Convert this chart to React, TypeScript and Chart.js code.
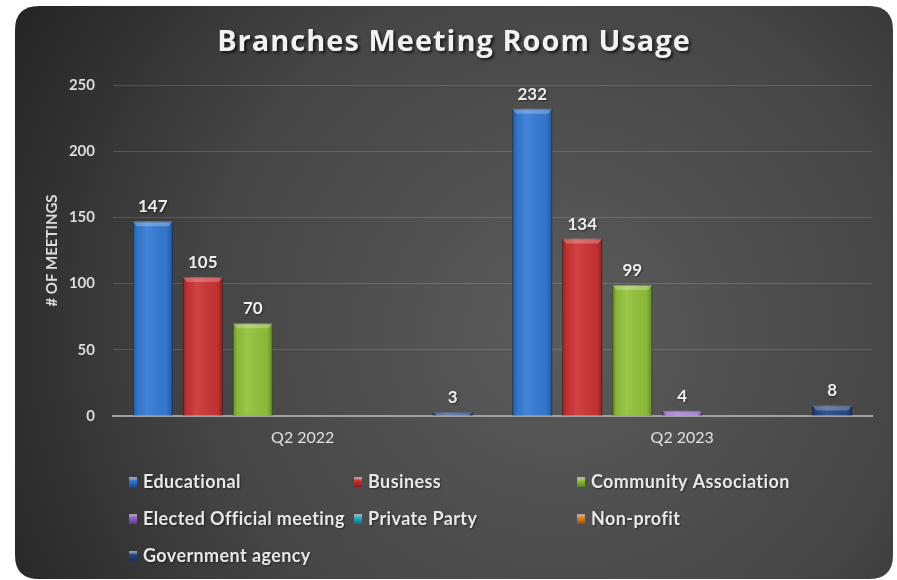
import React, { useEffect, useRef } from "react";
import { Chart, registerables } from "chart.js";

Chart.register(...registerables);

const categories = ["Q2 2022", "Q2 2023"];
const seriesNames = [
  "Educational",
  "Business",
  "Community Association",
  "Elected Official meeting",
  "Private Party",
  "Non-profit",
  "Government agency",
];
const educational = [147, 232];
const business = [105, 134];
const community = [70, 99];
const elected = [0, 4];
const privateParty = [0, 0];
const nonProfit = [0, 0];
const government = [3, 8];
const yTicks = [0, 50, 100, 150, 200, 250];
const chartTitle = "Branches Meeting Room Usage";
const yTitle = "# OF MEETINGS";

const seriesValues = [educational, business, community, elected, privateParty, nonProfit, government];
const seriesColors = [
  "rgb(52,122,212)",
  "rgb(204,52,52)",
  "rgb(146,194,60)",
  "rgb(150,100,205)",
  "rgb(40,175,205)",
  "rgb(232,130,40)",
  "rgb(38,74,135)",
];
const seriesBorders = [
  "rgb(30,75,140)",
  "rgb(130,30,30)",
  "rgb(90,125,35)",
  "rgb(95,60,135)",
  "rgb(25,110,130)",
  "rgb(150,80,20)",
  "rgb(25,45,85)",
];

const FONT = "Lato, 'Open Sans', sans-serif";

const bgPlugin = {
  id: "bgPlugin",
  beforeDraw(chart: any) {
    const ctx = chart.ctx;
    ctx.save();
    const x = 15, y = 6, w = 878, h = 573, r = 24;
    const g = ctx.createRadialGradient(560, 330, 20, 560, 330, 640);
    g.addColorStop(0, "#5a5a5a");
    g.addColorStop(0.55, "#454545");
    g.addColorStop(1, "#232323");
    ctx.fillStyle = g;
    ctx.beginPath();
    ctx.moveTo(x + r, y);
    ctx.lineTo(x + w - r, y);
    ctx.quadraticCurveTo(x + w, y, x + w, y + r);
    ctx.lineTo(x + w, y + h - r);
    ctx.quadraticCurveTo(x + w, y + h, x + w - r, y + h);
    ctx.lineTo(x + r, y + h);
    ctx.quadraticCurveTo(x, y + h, x, y + h - r);
    ctx.lineTo(x, y + r);
    ctx.quadraticCurveTo(x, y, x + r, y);
    ctx.closePath();
    ctx.fill();

    // title
    ctx.font = `bold 29px 'Open Sans', ${FONT}`;
    (ctx as any).letterSpacing = "1px";
    ctx.textAlign = "center";
    ctx.textBaseline = "middle";
    ctx.shadowColor = "rgba(0,0,0,0.7)";
    ctx.shadowOffsetX = 2;
    ctx.shadowOffsetY = 2;
    ctx.shadowBlur = 3;
    ctx.fillStyle = "#f2f2f2";
    ctx.fillText(chartTitle, 454, 43);
    (ctx as any).letterSpacing = "0px";
    ctx.restore();
  },
};

const barDecorPlugin = {
  id: "barDecor",
  afterDatasetsDraw(chart: any) {
    const ctx = chart.ctx;
    ctx.save();
    chart.data.datasets.forEach((ds: any, di: number) => {
      const meta = chart.getDatasetMeta(di);
      meta.data.forEach((bar: any, i: number) => {
        const v = ds.data[i];
        if (!v) return;
        const left = bar.x - bar.width / 2;
        const top = bar.y;
        const hgt = bar.base - bar.y;
        const g = ctx.createLinearGradient(left, 0, left + bar.width, 0);
        g.addColorStop(0, "rgba(0,0,0,0.28)");
        g.addColorStop(0.12, "rgba(0,0,0,0.05)");
        g.addColorStop(0.35, "rgba(255,255,255,0.08)");
        g.addColorStop(0.85, "rgba(0,0,0,0.05)");
        g.addColorStop(1, "rgba(0,0,0,0.3)");
        ctx.fillStyle = g;
        ctx.fillRect(left, top, bar.width, hgt);
        const capH = Math.min(5, hgt);
        ctx.fillStyle = "rgba(255,255,255,0.25)";
        ctx.beginPath();
        ctx.moveTo(left, top);
        ctx.lineTo(left + bar.width, top);
        ctx.lineTo(left + bar.width - 4, top + capH);
        ctx.lineTo(left + 4, top + capH);
        ctx.closePath();
        ctx.fill();
        // label
        ctx.font = `bold 17px ${FONT}`;
        ctx.fillStyle = "#eeeeee";
        ctx.textAlign = "center";
        ctx.textBaseline = "alphabetic";
        ctx.shadowColor = "rgba(0,0,0,0.5)";
        ctx.shadowOffsetX = 1;
        ctx.shadowOffsetY = 1;
        ctx.shadowBlur = 2;
        ctx.fillText(String(v), bar.x, top - 9);
        ctx.shadowColor = "transparent";
      });
    });
    ctx.restore();
  },
};

const legendPlugin = {
  id: "customLegend",
  afterDraw(chart: any) {
    const ctx = chart.ctx;
    const cols = [129, 354, 577];
    const rows = [482, 519, 556];
    ctx.save();
    ctx.font = `bold 18px ${FONT}`;
    (ctx as any).letterSpacing = "0.4px";
    ctx.textAlign = "left";
    ctx.textBaseline = "middle";
    seriesNames.forEach((name, i) => {
      const cx = cols[i % 3];
      const cy = rows[Math.floor(i / 3)];
      const g = ctx.createLinearGradient(0, cy - 5, 0, cy + 5);
      g.addColorStop(0, "rgba(255,255,255,0.5)");
      g.addColorStop(0.35, seriesColors[i]);
      g.addColorStop(1, seriesBorders[i]);
      ctx.fillStyle = g;
      ctx.fillRect(cx, cy - 5, 8, 10);
      ctx.fillStyle = "#e8e8e8";
      ctx.shadowColor = "rgba(0,0,0,0.5)";
      ctx.shadowOffsetX = 1;
      ctx.shadowOffsetY = 1;
      ctx.shadowBlur = 2;
      ctx.fillText(name, cx + 14, cy);
      ctx.shadowColor = "transparent";
    });
    (ctx as any).letterSpacing = "0px";
    ctx.restore();
  },
};

export default function App() {
  const ref = useRef<HTMLCanvasElement>(null);
  useEffect(() => {
    document.body.style.margin = "0";
    const chart = new Chart(ref.current as HTMLCanvasElement, {
      type: "bar",
      data: {
        labels: categories,
        datasets: seriesNames.map((name, i) => ({
          label: name,
          data: seriesValues[i],
          backgroundColor: seriesColors[i],
          borderColor: seriesBorders[i],
          borderWidth: 1,
          borderSkipped: "bottom",
          categoryPercentage: 0.922,
          barPercentage: 0.8,
        })),
      },
      options: {
        animation: false,
        responsive: false,
        layout: { padding: { top: 85, right: 25, left: 0, bottom: 0 } },
        plugins: {
          legend: { display: false },
          title: { display: false },
          tooltip: { enabled: false },
        },
        scales: {
          x: {
            grid: { display: false, drawTicks: false },
            border: { display: true, color: "#a0a0a0", width: 2 },
            ticks: {
              color: "#e0e0e0",
              font: { family: FONT, size: 16 },
              padding: 12,
            },
            afterFit(scale: any) {
              scale.height = 164;
            },
          },
          y: {
            min: 0,
            max: 250,
            afterBuildTicks(scale: any) {
              scale.ticks = yTicks.map((v) => ({ value: v }));
            },
            grid: { color: "rgba(255,255,255,0.14)", lineWidth: 1, drawTicks: false },
            border: { display: false },
            ticks: {
              color: "#dcdcdc",
              font: { family: FONT, size: 15, weight: "bold" },
              padding: 18,
            },
            title: {
              display: true,
              text: yTitle,
              color: "#dcdcdc",
              font: { family: FONT, size: 15, weight: "bold" },
              padding: { top: 43, bottom: 0 },
            },
            afterFit(scale: any) {
              scale.width = 113;
            },
          },
        },
      },
      plugins: [bgPlugin, barDecorPlugin, legendPlugin],
    } as any);
    return () => chart.destroy();
  }, []);
  return (
    <div style={{ width: 897, height: 580 }}>
      <canvas ref={ref} width={897} height={580} style={{ display: "block" }} />
    </div>
  );
}
